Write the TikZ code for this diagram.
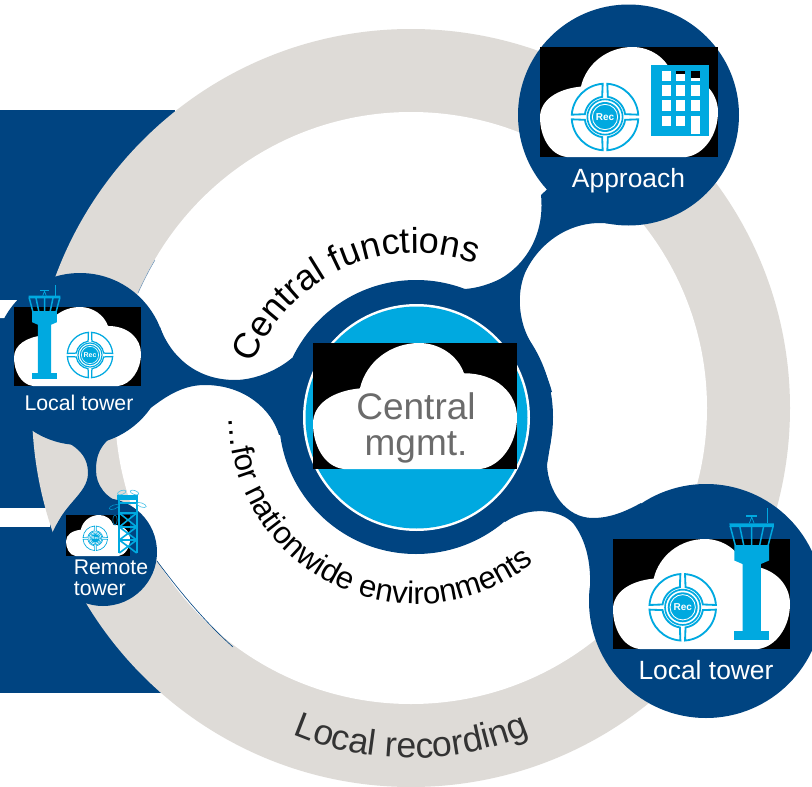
\documentclass[tikz,border=0pt]{standalone}
\usepackage{fontspec}
\setmainfont{Liberation Sans}
\usetikzlibrary{decorations.text}
\definecolor{navy}{HTML}{004481}
\definecolor{sky}{HTML}{00A9E0}
\definecolor{ringgray}{HTML}{DEDBD7}
\tikzset{
  blob/.style={fill=navy,draw=none},
  label/.style={inner sep=0pt,text=white,anchor=base},
}
\newcommand{\fsz}[1]{\fontsize{#1}{#1}\selectfont}
\newcommand{\cloudbox}[4]{%
  \begin{scope}[shift={(#1,#2)},xscale=#3/100,yscale=#4/100]
    \fill[black] (0,0) rectangle (100,100);
    \fill[white] (15,100) .. controls (5,98) and (0,80) .. (0,64)
      .. controls (0,48) and (10,38) .. (23,36)
      .. controls (26,15) and (38,0) .. (52,0)
      .. controls (62,0) and (71,10) .. (74,24)
      .. controls (90,24) and (100,40) .. (100,59)
      .. controls (100,80) and (92,98) .. (82,100) -- cycle;
  \end{scope}}
\newcommand{\recicon}[4]{% x y R fontsize
  \begin{scope}[shift={(#1,#2)},x=#3pt,y=#3pt]
    \foreach \a in {0,90,180,270}{
      \draw[sky,line width=#3*0.055pt,rotate=\a] (4:1) arc[start angle=4,end angle=86,radius=1] -- (82:.61) arc[start angle=82,end angle=8,radius=.61] -- cycle;
    }
    \draw[sky,line width=#3*0.05pt] (0,0) circle[radius=.53];
    \fill[sky] (0,0) circle[radius=.45];
    \draw[white,line width=#3*0.025pt] (0,0) circle[radius=.38];
    \node[inner sep=0pt,text=white] (rec#1) at (0,0) {\fsz{#4}\bfseries Rec};
  \end{scope}}
\newcommand{\towericon}[3]{% x y(base bottom centre) scale
  \begin{scope}[shift={(#1,#2)},scale=#3]
    \fill[sky] (-17.5,0) rectangle (17.5,-8.7);
    \fill[sky] (-9.2,-8.7) -- (-9.2,-76) -- (-17.3,-79.5) -- (-17.3,-95) -- (17.3,-95) -- (17.3,-79.5) -- (9.2,-76) -- (9.2,-8.7) -- cycle;
    \fill[sky] (-22.3,-116.7) -- (22.3,-116.7) -- (22,-113) -- (-22,-113) -- cycle;
    \draw[sky,line width=1.5pt] (-21.5,-114) -- (-16.5,-95) (-12,-114) -- (-8,-95) (0,-114) -- (0,-95) (12,-114) -- (8,-95) (21.5,-114) -- (16.5,-95);
    \draw[sky,line width=1.2pt] (15.7,-131.7) -- (15.7,-116.7);
    \draw[sky,line width=1.2pt] (-5.7,-124) -- (5.7,-124);
    \draw[sky,line width=.7pt] (-2.4,-116.7) -- (0,-123) -- (2.4,-116.7);
  \end{scope}}
\begin{document}
\begin{tikzpicture}[x=1pt,y=-1pt]
\clip (0,0) rectangle (812,787);
\fill[white] (0,0) rectangle (812,787);
% left navy block and its white cuts
\fill[navy] (0,110) rectangle (175,693);
\fill[white] (0,300) -- (20,300) -- (7,318) -- (0,318) -- cycle;
\fill[white] (0,508) rectangle (50,527);
% ring
\fill[ringgray] (411,408) circle[radius=379pt];
\fill[white] (411,408) circle[radius=296pt];
\draw[navy,line width=.6pt] (157,561) .. controls (180,592) and (205,622) .. (233,647);
\draw[navy!60,line width=.5pt] (155,260) .. controls (149,270) and (143,282) .. (138,293);
% navy blob: discs
\fill[blob] (416,417) circle[radius=137pt];
\fill[blob] (628.5,115) circle[radius=110.5pt];
\fill[blob] (706,601) circle[radius=117pt];
\fill[blob] (80,359) circle[radius=86pt];
\fill[blob] (103,552) circle[radius=54pt];
% navy blob: necks
\fill[blob] (541,195) .. controls (545,235) and (525,265) .. (500,279)
  .. controls (490,284) and (478,288) .. (465,289) -- (416,417) -- (552,392)
  .. controls (546,370) and (535,352) .. (527,335)
  .. controls (520,320) and (516,295) .. (525,273)
  .. controls (540,240) and (575,218) .. (612,224) -- (628,115) -- cycle;
\fill[blob] (551,440) -- (547,465) .. controls (548,490) and (565,518) .. (593,518)
  .. controls (612,518) and (628,510) .. (641,503) -- (706,601) -- (589,601)
  .. controls (592,575) and (590,545) .. (573,523)
  .. controls (560,510) and (530,505) .. (505,522) -- (416,417) -- cycle;
\fill[blob] (160,327) .. controls (170,355) and (195,380) .. (235,380)
  .. controls (255,380) and (278,370) .. (292,358) -- (416,417) -- (279,435)
  .. controls (272,410) and (245,385) .. (205,385)
  .. controls (170,385) and (150,412) .. (116,433) -- (80,359) -- cycle;
\fill[blob] (32,425) .. controls (60,440) and (88,445) .. (88,473)
  .. controls (88,495) and (60,505) .. (53,536) -- (103,552) -- (125,505)
  .. controls (105,498) and (96,485) .. (96,470)
  .. controls (96,455) and (100,445) .. (116,433) -- (80,359) -- cycle;
% centre
\fill[white] (416.5,417.5) circle[radius=113.5pt];
\fill[sky] (416.5,417.5) circle[radius=111pt];
\cloudbox{313}{343}{204}{126}
\node[inner sep=0pt,text=black!58,align=center,font=\fsz{37}] (central) at (416,428) {Central\\[-1.5pt]mgmt.};
% approach
\cloudbox{540}{47}{178}{110}
\recicon{605}{117}{33.3}{10}
\fill[sky] (651.3,65.3) rectangle (708.7,136);
\foreach \cx in {0,14.4,28.8}{
  \foreach \cy in {0,14.7,29.7}{
    \fill[white] (661.7+\cx,70.7+\cy) rectangle ++(9.3,10.5);
  }
}
\fill[white] (661.7,115.7) rectangle ++(9.3,10.5);
\fill[white] (676.1,115.7) rectangle ++(9.3,10.5);
\fill[white] (690.5,115.7) rectangle ++(9.3,18);
\fill[black] (676.1,70.7) rectangle ++(9.3,2.8);
\fill[black] (690.5,70.7) rectangle ++(9.3,7.5);
\node[label,font=\fsz{26.4}] (approach) at (628.5,187.5) {Approach};
% right tower
\cloudbox{613}{539}{177}{110}
\recicon{682.7}{607.3}{33.3}{10}
\towericon{751.7}{640}{1}
\node[label,font=\fsz{26.4}] (towerR) at (706,679) {Local tower};
% left tower
\cloudbox{14}{307}{127}{79}
\recicon{90}{355}{22.7}{7}
\towericon{44.5}{379}{.714}
\node[label,font=\fsz{21.3}] (towerL) at (79,410.5) {Local tower};
% remote tower
\cloudbox{66}{515}{64}{41}
\recicon{95.3}{538.3}{12.3}{4}
\draw[sky,line width=2pt] (119.3,500) -- (119.3,553) (136.7,500) -- (136.7,553);
\fill[sky] (117.3,495) rectangle (138,499.5);
\draw[sky,line width=1.6pt] (119.3,513) -- (136.7,513) (119.3,527) -- (136.7,527) (119.3,540) -- (136.7,540)
  (119.3,513) -- (136.7,527) (136.7,513) -- (119.3,527)
  (119.3,527) -- (136.7,540) (136.7,527) -- (119.3,540)
  (119.3,540) -- (136.7,553) (136.7,540) -- (119.3,553)
  (119.3,503) -- (136.7,503);
\draw[sky!70,line width=.6pt] (121.7,492.5) ellipse[x radius=4.5pt,y radius=2pt,rotate=20];
\draw[sky!70,line width=.6pt] (134.5,492.5) ellipse[x radius=4.5pt,y radius=2pt,rotate=-20];
\draw[sky!80!navy,line width=.6pt] (114,507) ellipse[x radius=5pt,y radius=2pt,rotate=20];
\draw[sky!70,line width=.6pt] (141.5,505) ellipse[x radius=5pt,y radius=2pt,rotate=-20];
\draw[sky!50!navy,line width=.7pt] (115,520) ellipse[x radius=2.2pt,y radius=5pt];
\node[inner sep=0pt,text=white,align=left,anchor=north west,font=\fsz{21.2}] (remote) at (73.7,559.5) {Remote\\tower};
% curved captions
\path[decorate,decoration={text along path,text align=left,
  text={|\fsz{36}\color{black}|Central functions}}]
  ({416+175*cos(158.5)},{428-175*sin(158.5)}) arc[start angle=158.5,end angle=60,radius=175pt];
\path[decorate,decoration={text along path,text align=left,
  text={|\fsz{31.2}\color{black}|…for nationwide environments}}]
  ({416+187*cos(180)},{417-187*sin(180)}) arc[start angle=180,end angle=320,radius=187pt];
\path[decorate,decoration={text along path,text align=left,
  text={|\fsz{35.6}\color{black!80}|Local recording}}]
  ({411+303*cos(247)},{455-303*sin(247)}) arc[start angle=247,end angle=300,radius=303pt];
\end{tikzpicture}
\end{document}
